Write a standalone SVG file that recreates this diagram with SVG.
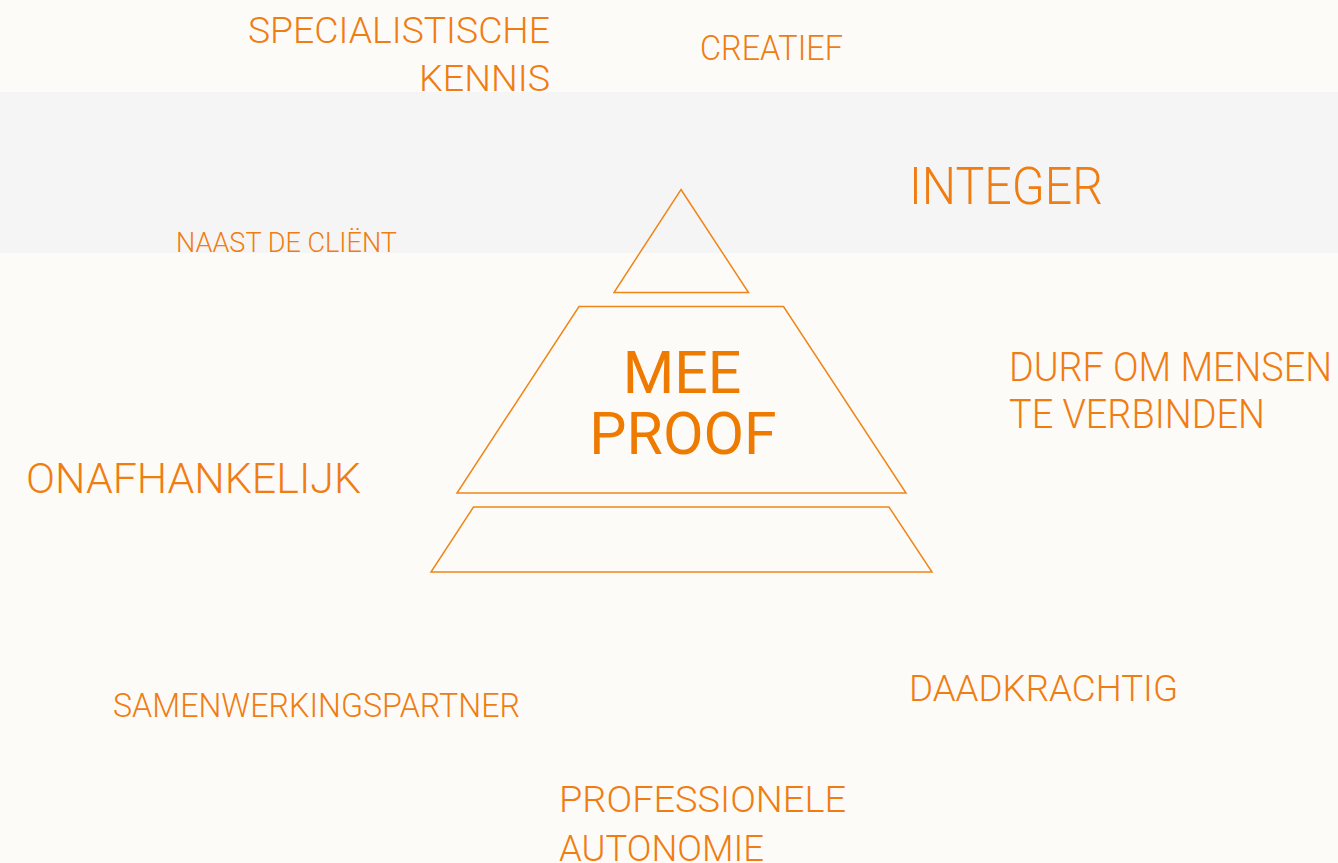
<svg xmlns="http://www.w3.org/2000/svg" width="1338" height="863" viewBox="0 0 1338 863">
<style>
.t{font-family:Roboto,"Liberation Sans",sans-serif;font-weight:300;fill:#f07d12}
.m{font-family:Roboto,"Liberation Sans",sans-serif;font-weight:400;fill:#ee7a00;text-anchor:middle}
.s{fill:none;stroke:#f08518;stroke-width:1.5;stroke-linejoin:miter}
</style>
<rect x="0" y="0" width="1338" height="863" fill="#fcfbf8"/>
<g id="t-specialistische"><text class="t" x="248" y="43" font-size="37" textLength="302" lengthAdjust="spacingAndGlyphs">SPECIALISTISCHE</text><text class="t" x="419" y="91" font-size="37" textLength="131" lengthAdjust="spacingAndGlyphs">KENNIS</text></g>
<rect id="band" x="0" y="92" width="1338" height="161" fill="#f5f5f5"/>
<g id="t-creatief"><text class="t" x="700" y="60" font-size="34.5" textLength="143" lengthAdjust="spacingAndGlyphs">CREATIEF</text></g>
<g id="t-integer"><text class="t" x="909" y="204" font-size="51" textLength="194" lengthAdjust="spacingAndGlyphs">INTEGER</text></g>
<g id="t-naast"><text class="t" x="176" y="252" font-size="27.5" textLength="221" lengthAdjust="spacingAndGlyphs">NAAST DE CLIËNT</text></g>
<g id="t-durf"><text class="t" x="1009" y="381" font-size="40" textLength="323" lengthAdjust="spacingAndGlyphs">DURF OM MENSEN</text><text class="t" x="1009" y="428" font-size="40" textLength="256" lengthAdjust="spacingAndGlyphs">TE VERBINDEN</text></g>
<g id="t-onafhankelijk"><text class="t" x="26" y="493" font-size="43" textLength="335" lengthAdjust="spacingAndGlyphs">ONAFHANKELIJK</text></g>
<g id="t-daadkrachtig"><text class="t" x="909" y="701" font-size="37" textLength="269" lengthAdjust="spacingAndGlyphs">DAADKRACHTIG</text></g>
<g id="t-samenwerking"><text class="t" x="113" y="717" font-size="33" textLength="407" lengthAdjust="spacingAndGlyphs">SAMENWERKINGSPARTNER</text></g>
<g id="t-professionele"><text class="t" x="559" y="812" font-size="36" textLength="287" lengthAdjust="spacingAndGlyphs">PROFESSIONELE</text><text class="t" x="559" y="861" font-size="36" textLength="205" lengthAdjust="spacingAndGlyphs">AUTONOMIE</text></g>
<g id="pyramid">
<polygon id="top" class="s" points="681,189.5 748.5,292.5 614,292.5"/>
<polygon id="middle" class="s" points="579,306.5 783.5,306.5 906,493 457,493"/>
<polygon id="bottom" class="s" points="473.5,507 889,507 932,572 431,572"/>
<g id="t-meeproof"><text class="m" x="682" y="392.5" font-size="59">MEE</text><text class="m" x="683" y="453.5" font-size="59">PROOF</text></g>
</g>
</svg>
